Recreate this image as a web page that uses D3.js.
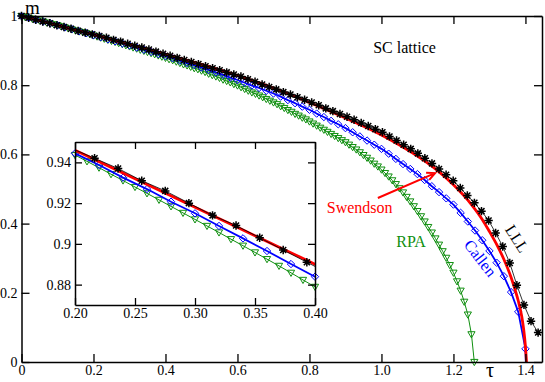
<!DOCTYPE html>
<html>
<head>
<meta charset="utf-8">
<script src="https://cdn.jsdelivr.net/npm/d3@7"></script>
<style>
  body { margin: 0; background: #fff; }
  svg { display: block; }
  svg text { font-family: "Liberation Serif", "DejaVu Serif", serif; }
</style>
</head>
<body>
<div id="chart"></div>
<script>
// ---- data: reduced temperature tau vs magnetisation m ----

// RPA (green, down triangles)
const rpaTau = [
  0.00,0.01,0.02,0.03,0.04,0.05,0.06,0.07,0.08,0.09,
  0.10,0.11,0.12,0.13,0.14,0.15,0.16,0.17,0.18,0.19,
  0.20,0.21,0.22,0.23,0.24,0.25,0.26,0.27,0.28,0.29,
  0.30,0.31,0.32,0.33,0.34,0.35,0.36,0.37,0.38,0.39,
  0.40,0.41,0.42,0.43,0.44,0.45,0.46,0.47,0.48,0.49,
  0.50,0.51,0.52,0.53,0.54,0.55,0.56,0.57,0.58,0.59,
  0.60,0.61,0.62,0.63,0.64,0.65,0.66,0.67,0.68,0.69,
  0.70,0.71,0.72,0.73,0.74,0.75,0.76,0.77,0.78,0.79,
  0.80,0.81,0.82,0.83,0.84,0.85,0.86,0.87,0.88,0.89,
  0.90,0.91,0.92,0.93,0.94,0.95,0.96,0.97,0.98,0.99,
  1.00,1.01,1.02,1.03,1.04,1.05,1.06,1.07,1.08,1.09,
  1.10,1.11,1.12,1.13,1.14,1.15,1.16,1.17,1.18,1.19,
  1.20,1.21,1.22,1.23,1.24,1.25,1.258
];
const rpaM = [
  1.000,0.997,0.995,0.992,0.989,0.987,0.984,0.981,0.978,0.976,
  0.973,0.970,0.967,0.964,0.961,0.958,0.955,0.953,0.950,0.947,
  0.9436,0.9405,0.9374,0.9342,0.9311,0.9279,0.9248,0.9216,0.9184,0.9152,
  0.9120,0.9088,0.9056,0.9023,0.8991,0.8958,0.8925,0.8892,0.8858,0.8823,
  0.8789,0.875,0.872,0.868,0.864,0.860,0.857,0.853,0.849,0.846,
  0.842,0.838,0.833,0.829,0.825,0.821,0.816,0.812,0.808,0.803,
  0.799,0.794,0.789,0.784,0.779,0.775,0.770,0.765,0.760,0.755,
  0.750,0.745,0.739,0.734,0.728,0.723,0.717,0.712,0.706,0.701,
  0.695,0.689,0.683,0.677,0.671,0.665,0.659,0.653,0.647,0.641,
  0.635,0.628,0.621,0.614,0.606,0.598,0.590,0.582,0.573,0.565,
  0.556,0.546,0.536,0.525,0.514,0.502,0.490,0.477,0.464,0.450,
  0.436,0.421,0.406,0.390,0.374,0.357,0.339,0.320,0.301,0.280,
  0.258,0.233,0.206,0.174,0.137,0.080,0.000
];

// Callen (blue, diamonds); last point closes the curve on the axis
const callenTau = [
  0.00,0.02,0.04,0.06,0.08,0.10,0.12,0.14,0.16,0.18,
  0.20,0.22,0.24,0.26,0.28,0.30,0.32,0.34,0.36,0.38,
  0.40,0.42,0.44,0.46,0.48,0.50,0.52,0.54,0.56,0.58,
  0.60,0.62,0.64,0.66,0.68,0.70,0.72,0.74,0.76,0.78,
  0.80,0.82,0.84,0.86,0.88,0.90,0.92,0.94,0.96,0.98,
  1.00,1.02,1.04,1.06,1.08,1.10,1.12,1.14,1.16,1.18,
  1.20,1.22,1.24,1.26,1.28,1.30,1.32,1.34,1.36,1.38,
  1.40,1.401
];
const callenM = [
  1.000,0.995,0.989,0.984,0.979,0.973,0.967,0.962,0.956,0.950,
  0.9444,0.9387,0.9325,0.9269,0.9207,0.915,0.9088,0.9027,0.8965,0.8901,
  0.8839,0.878,0.871,0.864,0.858,0.851,0.844,0.837,0.830,0.822,
  0.815,0.807,0.799,0.792,0.784,0.776,0.767,0.757,0.748,0.738,
  0.729,0.718,0.708,0.697,0.687,0.676,0.664,0.652,0.640,0.628,
  0.616,0.602,0.587,0.572,0.558,0.543,0.526,0.508,0.491,0.473,
  0.455,0.431,0.406,0.380,0.352,0.321,0.287,0.248,0.202,0.145,
  0.038,0.000
];

// Swendson (red solid line)
const swTau = [0,0.1,0.2,0.25,0.3,0.35,0.4,0.5,0.6,0.7,0.8,0.9,1.0,1.05,1.1,1.15,1.2,1.25,1.28,1.3,1.32,1.34,1.36,1.37,1.38,1.39,1.395,1.4,1.403];
const swM = [1,0.973,0.946,0.932,0.918,0.904,0.890,0.860,0.828,0.792,0.750,0.705,0.656,0.627,0.595,0.558,0.512,0.455,0.412,0.377,0.340,0.297,0.245,0.213,0.177,0.130,0.095,0.045,0];

// LLL (black stars)
const lllTau = [
  0,0.0197,0.0393,0.059,0.0786,0.0983,0.118,0.1376,0.1573,0.1769,
  0.1966,0.2163,0.2359,0.2556,0.2752,0.2949,0.3146,0.3342,0.3539,0.3735,
  0.3932,0.4129,0.4325,0.4522,0.4718,0.4915,0.5112,0.5308,0.5505,0.5701,
  0.5898,0.6095,0.6291,0.6488,0.6684,0.6881,0.7078,0.7274,0.7471,0.7667,
  0.7864,0.8061,0.8257,0.8454,0.865,0.8847,0.9044,0.924,0.9437,0.9633,
  0.983,1.0027,1.0223,1.042,1.0616,1.0813,1.101,1.1206,1.1403,1.1599,
  1.1796,1.1993,1.2189,1.2386,1.2582,1.2779,1.2976,1.3172,1.3369,1.3565,
  1.3762,1.3959,1.4155,1.4352
];
const lllM = [
  1.000,0.995,0.989,0.984,0.979,0.973,0.968,0.963,0.957,0.952,
  0.947,0.942,0.937,0.931,0.926,0.920,0.914,0.909,0.903,0.897,
  0.891,0.885,0.879,0.873,0.867,0.861,0.855,0.849,0.843,0.837,
  0.831,0.825,0.817,0.810,0.802,0.795,0.788,0.780,0.773,0.765,
  0.758,0.750,0.742,0.733,0.725,0.717,0.709,0.700,0.691,0.682,
  0.673,0.664,0.652,0.640,0.628,0.616,0.603,0.589,0.574,0.558,
  0.541,0.524,0.503,0.481,0.460,0.436,0.409,0.373,0.334,0.286,
  0.222,0.165,0.118,0.085
];

// ticks
const xTicks = [0, 0.2, 0.4, 0.6, 0.8, 1.0, 1.2, 1.4];
const yTicks = [0, 0.2, 0.4, 0.6, 0.8, 1];
const insetXTicks = [0.20, 0.25, 0.30, 0.35, 0.40];
const insetYTicks = [0.88, 0.90, 0.92, 0.94];

const GREEN = "#0f8f0f", BLUE = "#0000ff", RED = "#ff0000";
const SERIF = "'Liberation Serif', 'DejaVu Serif', serif";

const zip = (t, m) => t.map((v, i) => ({tau: v, m: m[i]}));

const series = [
  {name: "RPA", pts: zip(rpaTau, rpaM), color: GREEN, width: 1, symbol: "tri"},
  {name: "Callen", pts: zip(callenTau, callenM), color: BLUE, width: 1.8, symbol: "dia", skipZero: true},
  {name: "Swendson", pts: zip(swTau, swM), color: RED, width: 2.8, symbol: null, smooth: true},
  {name: "LLL", pts: zip(lllTau, lllM), color: "#000", width: 0.8, symbol: "star"}
];

// marker shapes
const symbols = {
  tri: "M-3.6,-2.6L3.6,-2.6L0,3.6Z",
  dia: "M0,-3.7L3.7,0L0,3.7L-3.7,0Z",
  star: "M-4.2,0L4.2,0M0,-4.2L0,4.2M-3,-3L3,3M-3,3L3,-3"
};

const width = 545, height = 382;

const svg = d3.select("#chart").append("svg")
  .attr("width", width)
  .attr("height", height);

svg.append("rect").attr("width", width).attr("height", height).attr("fill", "#fff");

const x = d3.scaleLinear().domain([0, 1.446]).range([21.5, 542]);
const y = d3.scaleLinear().domain([0, 1]).range([362, 16]);

const xi = d3.scaleLinear().domain([0.2, 0.4]).range([75, 315]);
const yi = d3.scaleLinear().domain([0.87, 0.95]).range([305, 142]);

const defs = svg.append("defs");
defs.append("clipPath").attr("id", "clipMain")
  .append("rect").attr("x", x(0)).attr("y", y(1) - 2)
  .attr("width", x(1.446) - x(0)).attr("height", y(0) - y(1) + 2);
defs.append("clipPath").attr("id", "clipInset")
  .append("rect").attr("x", xi(0.2)).attr("y", yi(0.95))
  .attr("width", xi(0.4) - xi(0.2)).attr("height", yi(0.87) - yi(0.95));

function styleAxis(g, labels) {
  g.attr("font-size", 14).attr("font-family", null);
  g.selectAll(".tick text").style("font-family", SERIF).attr("fill", "#000");
  g.selectAll("path.domain").attr("stroke-width", 1.5);
  g.selectAll(".tick line").attr("stroke-width", 1.3);
  if (!labels) g.selectAll(".tick text").remove();
}

function drawFrame(xs, ys, xt, yt, fx, fy, tick) {
  const [x0, x1] = xs.range();
  const [y0, y1] = ys.range();
  svg.append("g").attr("transform", `translate(0,${y0})`)
    .call(d3.axisBottom(xs).tickValues(xt).tickFormat(fx).tickSizeInner(-tick).tickSizeOuter(0).tickPadding(3))
    .call(g => styleAxis(g, true));
  svg.append("g").attr("transform", `translate(0,${y1})`)
    .call(d3.axisTop(xs).tickValues(xt).tickSizeInner(-tick).tickSizeOuter(0))
    .call(g => styleAxis(g, false));
  svg.append("g").attr("transform", `translate(${x0},0)`)
    .call(d3.axisLeft(ys).tickValues(yt).tickFormat(fy).tickSizeInner(-tick).tickSizeOuter(0).tickPadding(4))
    .call(g => styleAxis(g, true));
  svg.append("g").attr("transform", `translate(${x1},0)`)
    .call(d3.axisRight(ys).tickValues(yt).tickSizeInner(-tick).tickSizeOuter(0))
    .call(g => styleAxis(g, false));
}

function drawSeries(g, xs, ys, clipId, inRange) {
  const body = g.append("g");
  series.forEach(s => {
    const line = d3.line()
      .x(d => xs(d.tau))
      .y(d => ys(d.m))
      .curve(s.smooth ? d3.curveMonotoneX : d3.curveLinear);
    body.append("path")
      .datum(s.pts)
      .attr("clip-path", `url(#${clipId})`)
      .attr("fill", "none")
      .attr("stroke", s.color)
      .attr("stroke-width", s.width)
      .attr("stroke-linejoin", "round")
      .attr("d", line);

    if (!s.symbol) return;
    const pts = s.pts.filter(d => inRange(d) && !(s.skipZero && d.m === 0));
    body.selectAll(null)
      .data(pts)
      .enter()
      .append("path")
      .attr("transform", d => `translate(${xs(d.tau)},${ys(d.m)})`)
      .attr("d", symbols[s.symbol])
      .attr("fill", "none")
      .attr("stroke", s.color)
      .attr("stroke-width", s.symbol === "star" ? 1.5 : 1);
  });
}

// ---- main panel ----
const fmtX = d => d === 0 ? "0" : d3.format(".1f")(d);
const fmtY = d => (d === 0 || d === 1) ? String(d) : d3.format(".1f")(d);

drawSeries(svg, x, y, "clipMain", d => d.tau <= 1.446);
drawFrame(x, y, xTicks, yTicks, fmtX, fmtY, 8);

// axis titles
svg.append("text").attr("x", 25).attr("y", 14).attr("font-size", 19)
  .style("font-family", SERIF).text("m");
svg.append("text").attr("x", 486).attr("y", 377).attr("font-size", 20)
  .style("font-family", SERIF).text("τ");

// annotations (placed in data units)
const notes = [
  {text: "SC lattice", tau: 0.977, m: 0.893, color: "#000", rot: 0, size: 16},
  {text: "Swendson", tau: 0.848, m: 0.431, color: RED, rot: 0, size: 16},
  {text: "RPA", tau: 1.041, m: 0.332, color: GREEN, rot: 0, size: 16},
  {text: "Callen", tau: 1.227, m: 0.338, color: BLUE, rot: 52, size: 16},
  {text: "LLL", tau: 1.342, m: 0.384, color: "#000", rot: 58, size: 16}
];
svg.selectAll("text.note")
  .data(notes)
  .enter()
  .append("text")
  .attr("class", "note")
  .attr("transform", d => `translate(${x(d.tau)},${y(d.m)}) rotate(${d.rot})`)
  .attr("fill", d => d.color)
  .attr("font-size", d => d.size)
  .style("font-family", SERIF)
  .text(d => d.text);

// arrow from "Swendson" to the red curve
const arrowFrom = {tau: 0.99, m: 0.474};
const arrowTo = {tau: 1.149, m: 0.546};
const ax0 = x(arrowFrom.tau), ay0 = y(arrowFrom.m);
const ax1 = x(arrowTo.tau), ay1 = y(arrowTo.m);
const ang = Math.atan2(ay1 - ay0, ax1 - ax0);
const head = 9, spread = 0.45;
svg.append("path")
  .attr("d", `M${ax0},${ay0}L${ax1},${ay1}` +
    `M${ax1 - head * Math.cos(ang - spread)},${ay1 - head * Math.sin(ang - spread)}L${ax1},${ay1}` +
    `L${ax1 - head * Math.cos(ang + spread)},${ay1 - head * Math.sin(ang + spread)}`)
  .attr("fill", "none")
  .attr("stroke", RED)
  .attr("stroke-width", 2);

// ---- inset ----
svg.append("rect")
  .attr("x", xi(0.2)).attr("y", yi(0.95))
  .attr("width", xi(0.4) - xi(0.2)).attr("height", yi(0.87) - yi(0.95))
  .attr("fill", "#fff");

drawSeries(svg, xi, yi, "clipInset", d => d.tau >= 0.2 - 1e-6 && d.tau <= 0.4 + 1e-6 && d.m >= 0.87 && d.m <= 0.95);
drawFrame(xi, yi, insetXTicks, insetYTicks, d3.format(".2f"), d3.format("~g"), 7);
</script>
</body>
</html>
